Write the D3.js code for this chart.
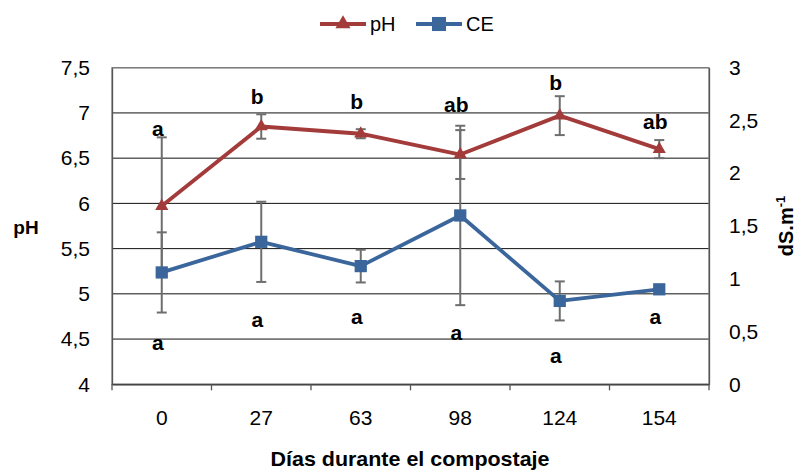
<!DOCTYPE html>
<html>
<head>
<meta charset="utf-8">
<title>pH y CE durante el compostaje</title>
<script src="https://cdn.jsdelivr.net/npm/d3@7/dist/d3.min.js"></script>
<style>
	body, html{
		margin: 0;
		padding: 0;
		background: #fff;
	}
	svg{
		display: block;
		font-family: 'Liberation Sans', Arial, sans-serif;
	}
	.tick text{
		font-size: 21px;
		fill: #000;
	}
	.letter{
		font-size: 21px;
		font-weight: bold;
	}
</style>
</head>
<body>
<svg id="chart" width="802" height="472"></svg>
<script>
	// data
	var days = ['0', '27', '63', '98', '124', '154'],
		phValues = [5.97, 6.85, 6.77, 6.54, 6.97, 6.60],
		phErr = [0.76, 0.135, 0.05, 0.27, 0.215, 0.10],
		ceValues = [1.06, 1.35, 1.12, 1.60, 0.79, 0.90],
		ceErr = [0.38, 0.38, 0.155, 0.85, 0.185, 0.02],
		phLetters = ['a', 'b', 'b', 'ab', 'b', 'ab'],
		phLetterAt = [6.83, 7.18, 7.12, 7.09, 7.33, 6.90],
		ceLetters = ['a', 'a', 'a', 'a', 'a', 'a'],
		ceLetterAt = [4.46, 4.71, 4.75, 4.57, 4.32, 4.75],
		phTicks = [4, 4.5, 5, 5.5, 6, 6.5, 7, 7.5],
		ceTicks = [0, 0.5, 1, 1.5, 2, 2.5, 3];

	var phColor = '#a33b3b',
		ceColor = '#3b669c',
		errColor = '#6e6e6e',
		borderColor = '#808080';

	var svg = d3.select('#chart'),
		plotLeft = 112, plotRight = 709, plotTop = 67.7, plotBottom = 384.3;

	var x = d3.scaleBand().domain(days).range([plotLeft, plotRight]),
		yL = d3.scaleLinear().domain([4, 7.5]).range([plotBottom, plotTop]),
		yR = d3.scaleLinear().domain([0, 3]).range([plotBottom, plotTop]);

	function comma(d){
		return String(d).replace('.', ',');
	}

	// grid lines
	svg.append('g').selectAll('line').data(phTicks).join('line')
		.attr('x1', plotLeft).attr('x2', plotRight)
		.attr('y1', function(d){ return yL(d); })
		.attr('y2', function(d){ return yL(d); })
		.attr('stroke', '#111').attr('stroke-width', 1);

	// plot border
	svg.append('rect')
		.attr('x', plotLeft).attr('y', plotTop)
		.attr('width', plotRight - plotLeft).attr('height', plotBottom - plotTop)
		.attr('fill', 'none').attr('stroke', borderColor).attr('stroke-width', 1.3);

	// axes
	var gl = svg.append('g').attr('transform', 'translate(' + plotLeft + ',0)')
		.call(d3.axisLeft(yL).tickValues(phTicks).tickFormat(comma).tickSize(0).tickPadding(22));
	var gr = svg.append('g').attr('transform', 'translate(' + plotRight + ',0)')
		.call(d3.axisRight(yR).tickValues(ceTicks).tickFormat(comma).tickSize(0).tickPadding(20));
	var gb = svg.append('g').attr('transform', 'translate(0,' + plotBottom + ')')
		.call(d3.axisBottom(x).tickSize(0).tickPadding(26));
	[gl, gr].forEach(function(g){
		g.select('.domain').attr('stroke', '#555').attr('stroke-width', 1.3);
	});
	gb.select('.domain').attr('stroke', '#333').attr('stroke-width', 1.3);
	[gl, gr, gb].forEach(function(g){
		g.selectAll('text').style('font-family', "'Liberation Sans', Arial, sans-serif");
	});

	// category boundary ticks
	svg.append('g').selectAll('line').data(d3.range(days.length + 1)).join('line')
		.attr('x1', function(i){ return plotLeft + i * x.step(); })
		.attr('x2', function(i){ return plotLeft + i * x.step(); })
		.attr('y1', plotBottom).attr('y2', plotBottom + 6)
		.attr('stroke', '#555').attr('stroke-width', 1.3);

	function cx(i){
		return x(days[i]) + x.bandwidth() / 2;
	}

	// error bars
	function errorBars(vals, errs, y){
		var g = svg.append('g').attr('stroke', errColor).attr('stroke-width', 2);
		vals.forEach(function(v, i){
			var y1 = y(v - errs[i]), y2 = y(v + errs[i]);
			g.append('line').attr('x1', cx(i)).attr('x2', cx(i)).attr('y1', y1).attr('y2', y2);
			g.append('line').attr('x1', cx(i) - 5).attr('x2', cx(i) + 5).attr('y1', y1).attr('y2', y1);
			g.append('line').attr('x1', cx(i) - 5).attr('x2', cx(i) + 5).attr('y1', y2).attr('y2', y2);
		});
	}
	errorBars(phValues, phErr, yL);
	errorBars(ceValues, ceErr, yR);

	// lines
	var line = function(y){
		return d3.line().x(function(d, i){ return cx(i); }).y(function(d){ return y(d); });
	};
	svg.append('path').datum(phValues).attr('d', line(yL))
		.attr('fill', 'none').attr('stroke', phColor).attr('stroke-width', 3.8).attr('stroke-linejoin', 'round');
	svg.append('path').datum(ceValues).attr('d', line(yR))
		.attr('fill', 'none').attr('stroke', ceColor).attr('stroke-width', 3.8).attr('stroke-linejoin', 'round');

	// markers
	var tri = d3.symbol().type(d3.symbolTriangle).size(75),
		sq = d3.symbol().type(d3.symbolSquare).size(150);
	svg.append('g').selectAll('path').data(phValues).join('path')
		.attr('d', tri)
		.attr('transform', function(d, i){ return 'translate(' + cx(i) + ',' + yL(d) + ')'; })
		.attr('fill', phColor);
	svg.append('g').selectAll('path').data(ceValues).join('path')
		.attr('d', sq)
		.attr('transform', function(d, i){ return 'translate(' + cx(i) + ',' + yR(d) + ')'; })
		.attr('fill', ceColor);

	// significance letters
	function letters(txt, at){
		svg.append('g').selectAll('text').data(txt).join('text')
			.attr('class', 'letter')
			.attr('x', function(d, i){ return cx(i) - 4; })
			.attr('y', function(d, i){ return yL(at[i]); })
			.attr('dy', '0.35em')
			.attr('text-anchor', 'middle')
			.text(function(d){ return d; });
	}
	letters(phLetters, phLetterAt);
	letters(ceLetters, ceLetterAt);

	// axis titles
	svg.append('text').attr('x', 26).attr('y', 227).attr('dy', '0.35em')
		.attr('text-anchor', 'middle').attr('font-weight', 'bold').attr('font-size', 19).text('pH');
	var rt = svg.append('text').attr('transform', 'translate(786,226) rotate(-90)')
		.attr('dy', '0.35em').attr('text-anchor', 'middle')
		.attr('font-weight', 'bold').attr('font-size', 20);
	rt.append('tspan').text('dS.m');
	rt.append('tspan').attr('font-size', 13).attr('dy', '-0.6em').text('-1');
	svg.append('text').attr('x', 410).attr('y', 466)
		.attr('text-anchor', 'middle').attr('font-weight', 'bold').attr('font-size', 20.5)
		.attr('textLength', 279).attr('lengthAdjust', 'spacingAndGlyphs')
		.text('Días durante el compostaje');

	// legend
	var legend = [
		{name: 'pH', color: phColor, sym: tri, x0: 320},
		{name: 'CE', color: ceColor, sym: sq, x0: 416}
	];
	var lg = svg.append('g').selectAll('g').data(legend).join('g')
		.attr('transform', function(d){ return 'translate(' + d.x0 + ',24)'; });
	lg.append('line').attr('x1', 0).attr('x2', 46).attr('stroke', function(d){ return d.color; }).attr('stroke-width', 3.8);
	lg.append('path').attr('d', function(d){ return d.sym(); })
		.attr('transform', 'translate(23,0) scale(1.15)').attr('fill', function(d){ return d.color; });
	lg.append('text').attr('x', 50).attr('dy', '0.35em').attr('font-size', 20)
		.text(function(d){ return d.name; });
</script>
</body>
</html>
